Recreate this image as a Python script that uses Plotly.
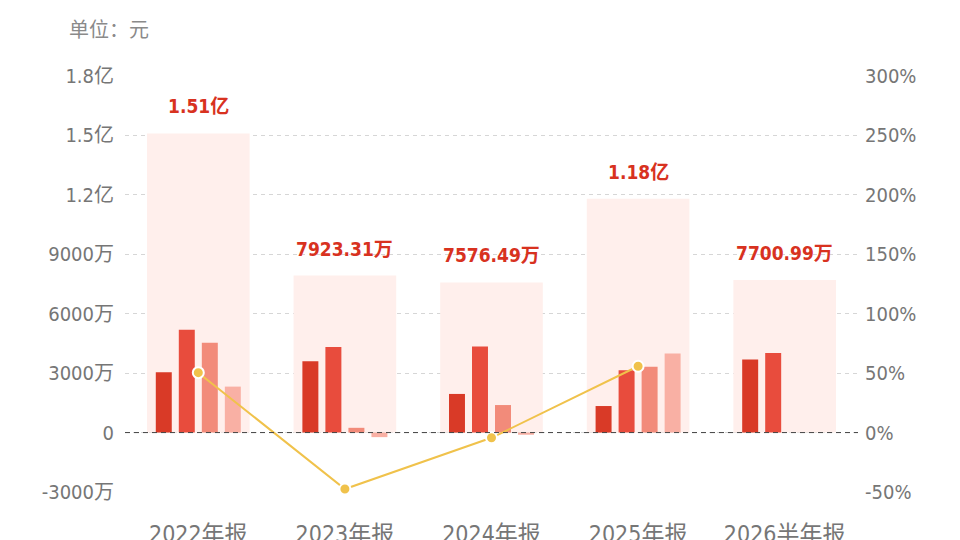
import plotly.graph_objects as go

# 数据（单位：元）
periods = ["2022年报", "2023年报", "2024年报", "2025年报", "2026半年报"]
totals = [1.51e8, 7923.31e4, 7576.49e4, 1.18e8, 7700.99e4]
total_labels = ["1.51亿", "7923.31万", "7576.49万", "1.18亿", "7700.99万"]
q1 = [3050e4, 3595e4, 1950e4, 1340e4, 3690e4]
q2 = [5190e4, 4321e4, 4350e4, 3150e4, 4011e4]
q3 = [4540e4, 240e4, 1390e4, 3320e4, None]
q4 = [2320e4, -230e4, -110e4, 3990e4, None]
growth = [50.4, -47.5, -4.4, 55.8, None]

left_ticks = [-3e7, 0, 3e7, 6e7, 9e7, 1.2e8, 1.5e8, 1.8e8]
left_text = ["-3000万", "0", "3000万", "6000万", "9000万", "1.2亿", "1.5亿", "1.8亿"]
right_ticks = [-50, 0, 50, 100, 150, 200, 250, 300]
right_text = ["-50%", "0%", "50%", "100%", "150%", "200%", "250%", "300%"]

FONT = "DejaVu Sans Condensed, Noto Sans CJK SC"
q_colors = ["#D93A27", "#E84C3D", "#F28B7A", "#F9B0A4"]

fig = go.Figure()

# background total bars
fig.add_trace(go.Bar(
    x=periods, y=totals, width=0.7, offset=-0.35,
    marker=dict(color="#FFEFEC", line=dict(width=0)),
    hoverinfo="skip", showlegend=False
))

bw = 0.109
step = 0.157
for i, (vals, col) in enumerate(zip([q1, q2, q3, q4], q_colors)):
    center = (i - 1.5) * step
    fig.add_trace(go.Bar(
        x=periods, y=vals, width=bw, offset=center - bw / 2,
        marker=dict(color=col, line=dict(width=0)),
        showlegend=False
    ))

fig.add_trace(go.Scatter(
    x=periods, y=growth, yaxis="y2", mode="lines+markers",
    line=dict(color="#F0C24B", width=2),
    marker=dict(size=11, color="#F0C24B", line=dict(color="white", width=2)),
    connectgaps=False, showlegend=False, cliponaxis=False
))

# total labels above the background bars
for p, t, lab in zip(periods, totals, total_labels):
    fig.add_annotation(
        x=p, y=t, text=f"<b>{lab}</b>", showarrow=False, yshift=27,
        font=dict(family=FONT, size=19, color="#D8321F")
    )

fig.add_annotation(
    xref="paper", yref="paper", x=-0.079, y=1.115, xanchor="left", yanchor="middle",
    text="单位：元", showarrow=False,
    font=dict(family="Noto Sans CJK SC", size=20, color="#8a8a8a")
)

# dashed zero line
fig.add_shape(type="line", xref="paper", x0=0, x1=1, yref="y", y0=0, y1=0,
              line=dict(color="#444444", width=1, dash="5px,4px"))

fig.update_layout(
    width=960, height=540,
    margin=dict(l=117, r=110, t=68, b=56),
    paper_bgcolor="white", plot_bgcolor="white",
    barmode="overlay",
    font=dict(family=FONT, color="#767676"),
    xaxis=dict(
        range=[-0.5, 4.5], showgrid=False, showline=False, ticks="",
        automargin=False,
        tickfont=dict(size=23, color="#767676"), ticklabelstandoff=26
    ),
    yaxis=dict(
        range=[-3e7, 1.8e8], tickvals=left_ticks, ticktext=left_text,
        showgrid=True, gridcolor="#D6D6D6", griddash="4px,4px", gridwidth=1,
        zeroline=False, showline=False, ticks="", automargin=False,
        tickfont=dict(size=20, color="#767676"), ticklabelstandoff=10
    ),
    yaxis2=dict(
        range=[-50, 300], tickvals=right_ticks, ticktext=right_text,
        overlaying="y", side="right", showgrid=False, zeroline=False,
        showline=False, ticks="", automargin=False,
        tickfont=dict(size=20, color="#767676"), ticklabelstandoff=6
    ),
)

fig.write_html("out.html")
